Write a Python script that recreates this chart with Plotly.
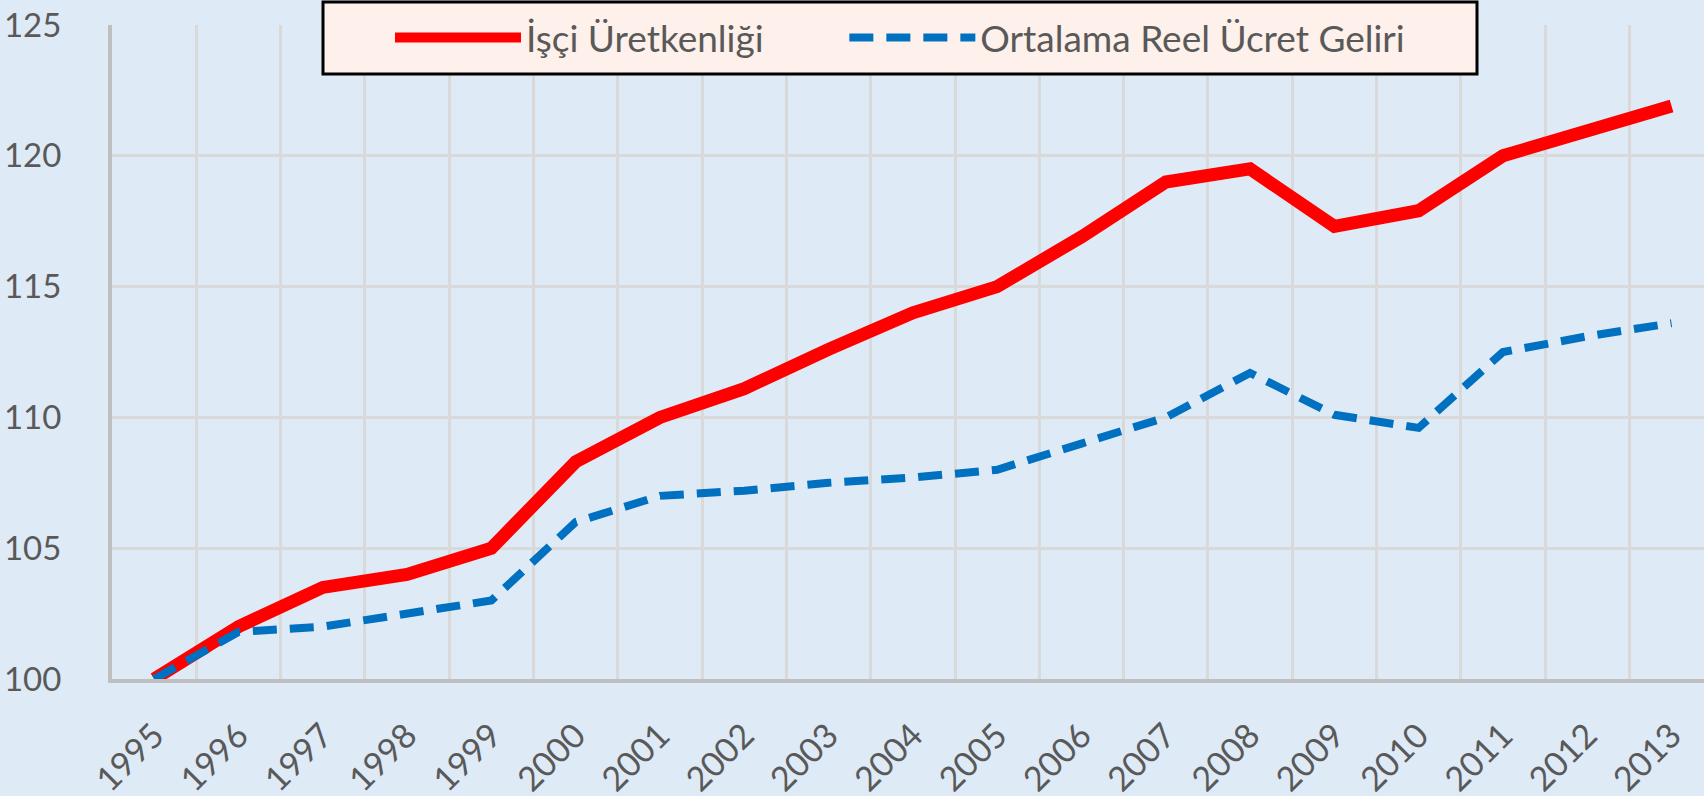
import plotly.graph_objects as go

years = [str(y) for y in range(1995, 2014)]
productivity = [100, 102.0, 103.5, 104.0, 105.0, 108.3, 110.0, 111.1, 112.6, 114.0,
                115.0, 116.9, 119.0, 119.5, 117.3, 117.9, 120.0, 120.9, 121.9]
real_wage = [100, 101.8, 102.0, 102.5, 103.0, 106.0, 107.0, 107.2, 107.5, 107.7,
             108.0, 109.0, 110.0, 111.7, 110.1, 109.6, 112.5, 113.1, 113.6]
y_ticks = [100, 105, 110, 115, 120, 125]
series_names = ["İşçi Üretkenliği", "Ortalama Reel Ücret Geliri"]

BG = "#DEEAF6"
GRID = "#D9D9D9"
AXIS = "#BFBFBF"
TXT = "#595959"
FONT = "Lato"
NB = "\u00a0"

fig = go.Figure()
fig.add_trace(go.Scatter(
    x=years, y=productivity, mode="lines", name=series_names[0] + NB * 8,
    line=dict(color="#FF0000", width=13)))
fig.add_trace(go.Scatter(
    x=years, y=real_wage, mode="lines", name=series_names[1],
    line=dict(color="#0070C0", width=8, dash="24px,13px")))

W, H = 1704, 796
ml, mr, mt, mb = 112, 0, 25, 117
pw, ph = W - ml - mr, H - mt - mb


def px_x(p):
    return (p - ml) / pw


def px_y(p):
    return 1 + (mt - p) / ph


# legend frame
fig.add_shape(type="rect", xref="paper", yref="paper",
              x0=px_x(323), x1=px_x(1477), y0=px_y(74), y1=px_y(2),
              fillcolor="#FEF0EA", line=dict(color="#000000", width=3),
              layer="above")

fig.update_layout(
    width=W, height=H,
    margin=dict(l=ml, r=mr, t=mt, b=mb, pad=0, autoexpand=False),
    paper_bgcolor=BG, plot_bgcolor=BG,
    font=dict(family=FONT, color=TXT),
    showlegend=True,
    legend=dict(
        orientation="h", x=px_x(390), xanchor="left",
        y=px_y(38), yanchor="middle",
        bgcolor="rgba(0,0,0,0)", borderwidth=0,
        font=dict(family=FONT, size=37, color=TXT),
        itemwidth=126,
    ),
    xaxis=dict(
        type="category", range=[-0.5, -0.5 + pw / 84.3],
        tickson="boundaries", showgrid=True, gridcolor=GRID, gridwidth=3,
        showline=True, linecolor=AXIS, linewidth=4, ticks="",
        tickangle=-45, tickfont=dict(family=FONT, size=34, color=TXT),
        ticklabelstandoff=19, zeroline=False, automargin=False,
    ),
    yaxis=dict(
        range=[100, 125], tickvals=y_ticks, showgrid=True, gridcolor=GRID,
        gridwidth=3, showline=True, linecolor=AXIS, linewidth=4, ticks="",
        tickfont=dict(family=FONT, size=33, color=TXT), ticklabelstandoff=40,
        zeroline=False, automargin=False,
    ),
)

fig.write_html("out.html", config={"displayModeBar": False},
               post_script="document.body.style.margin='0';")
